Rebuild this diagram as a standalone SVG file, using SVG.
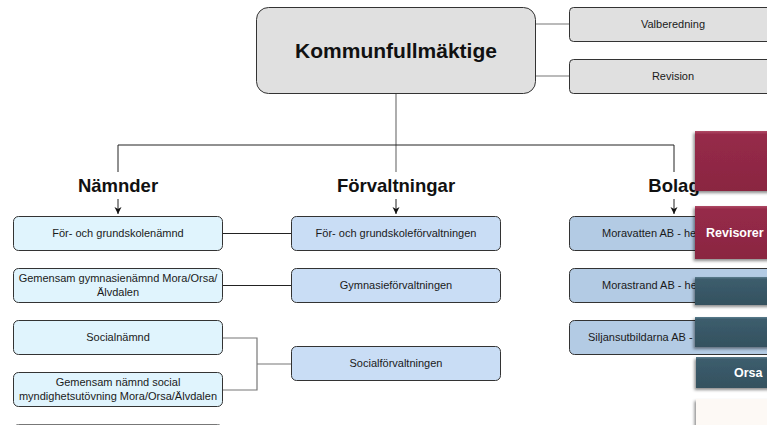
<svg xmlns="http://www.w3.org/2000/svg" width="767" height="425" viewBox="0 0 767 425">
<defs>
<style>
.t{font-family:"Liberation Sans",Arial,sans-serif;font-size:11px;fill:#1a1a1a;text-anchor:middle}
.h{font-family:"Liberation Sans",Arial,sans-serif;font-size:18.5px;font-weight:bold;fill:#111;text-anchor:middle}
.n1{fill:#e0f4fd;stroke:#333;stroke-width:1}
.n2{fill:#c9ddf5;stroke:#333;stroke-width:1}
.n3{fill:#b3cbe4;stroke:#333;stroke-width:1}
.g{fill:#e0e0e0;stroke:#333;stroke-width:1}
.c{fill:none;stroke:#222;stroke-width:1}
.cg{fill:none;stroke:#777;stroke-width:1.2}
.w{font-family:"Liberation Sans",Arial,sans-serif;font-size:12.5px;font-weight:bold;fill:#fff}
</style>
<linearGradient id="red" x1="0" y1="0" x2="0" y2="1">
<stop offset="0" stop-color="#b04a66"/>
<stop offset="0.06" stop-color="#962a49"/>
<stop offset="1" stop-color="#8a2641"/>
</linearGradient>
<linearGradient id="teal" x1="0" y1="0" x2="0" y2="1">
<stop offset="0" stop-color="#5a7d8e"/>
<stop offset="0.08" stop-color="#3c5d6d"/>
<stop offset="1" stop-color="#34515f"/>
</linearGradient>
<filter id="sh" x="-10%" y="-10%" width="130%" height="140%">
<feDropShadow dx="-1.5" dy="2" stdDeviation="1.5" flood-color="#000" flood-opacity="0.45"/>
</filter>
<marker id="arr" markerWidth="8" markerHeight="8" refX="7" refY="4" orient="auto" markerUnits="userSpaceOnUse">
<path d="M0,0.5 L7,4 L0,7.5 L2,4 Z" fill="#111"/>
</marker>
</defs>
<rect width="767" height="425" fill="#fff"/>

<g id="connectors">
<path class="cg" d="M396,94 V172"/>
<path class="c" d="M118,172 V145 H674 V172"/>
<path class="c" d="M118,199 V214" marker-end="url(#arr)"/>
<path class="c" d="M396,199 V214" marker-end="url(#arr)"/>
<path class="c" d="M674,199 V214" marker-end="url(#arr)"/>
<path class="cg" d="M536,24 H569"/>
<path class="cg" d="M536,76 H569"/>
<path class="c" d="M222,233.5 H292"/>
<path class="c" d="M222,285.5 H292"/>
<path class="cg" d="M222,338 H257 V390 H222"/>
<path class="cg" d="M257,364 H292"/>
</g>

<g id="kf">
<rect class="g" x="256.5" y="7.5" width="279" height="86" rx="12"/>
<text x="396" y="58" font-family="Liberation Sans,Arial,sans-serif" font-size="21" font-weight="bold" fill="#111" text-anchor="middle">Kommunfullmäktige</text>
</g>
<g id="valberedning">
<rect class="g" x="569.5" y="7.5" width="208" height="34" rx="4"/>
<text class="t" x="673" y="28">Valberedning</text>
</g>
<g id="revision">
<rect class="g" x="569.5" y="59.5" width="208" height="34" rx="4"/>
<text class="t" x="673" y="80">Revision</text>
</g>

<g id="labels">
<text class="h" x="118" y="192">Nämnder</text>
<text class="h" x="396" y="192">Förvaltningar</text>
<text class="h" x="674" y="192">Bolag</text>
</g>

<g id="n-forgrund">
<rect class="n1" x="13.5" y="216.5" width="209" height="34" rx="5"/>
<text class="t" x="118" y="237">För- och grundskolenämnd</text>
</g>
<g id="n-gymn">
<rect class="n1" x="13.5" y="268.5" width="209" height="34" rx="5"/>
<text class="t" x="118" y="282">Gemensam gymnasienämnd Mora/Orsa/</text>
<text class="t" x="118" y="296">Älvdalen</text>
</g>
<g id="n-social">
<rect class="n1" x="13.5" y="320.5" width="209" height="34" rx="5"/>
<text class="t" x="118" y="341">Socialnämnd</text>
</g>
<g id="n-myndighet">
<rect class="n1" x="13.5" y="372.5" width="209" height="34" rx="5"/>
<text class="t" x="118" y="386">Gemensam nämnd social</text>
<text class="t" x="118" y="400">myndighetsutövning Mora/Orsa/Älvdalen</text>
</g>
<g id="n-next">
<rect x="13.5" y="424.5" width="209" height="34" rx="5" fill="#e0f4fd" stroke="#777"/>
</g>

<g id="f-forgrund">
<rect class="n2" x="291.5" y="216.5" width="209" height="34" rx="5"/>
<text class="t" x="396" y="237">För- och grundskoleförvaltningen</text>
</g>
<g id="f-gymn">
<rect class="n2" x="291.5" y="268.5" width="209" height="34" rx="5"/>
<text class="t" x="396" y="289">Gymnasieförvaltningen</text>
</g>
<g id="f-social">
<rect class="n2" x="291.5" y="346.5" width="209" height="34" rx="5"/>
<text class="t" x="396" y="367">Socialförvaltningen</text>
</g>

<g id="b-moravatten">
<rect class="n3" x="569.5" y="216.5" width="209" height="34" rx="5"/>
<text class="t" x="602" y="237" style="text-anchor:start">Moravatten AB - he</text>
</g>
<g id="b-morastrand">
<rect class="n3" x="569.5" y="268.5" width="209" height="34" rx="5"/>
<text class="t" x="602" y="289" style="text-anchor:start">Morastrand AB - he</text>
</g>
<g id="b-siljans">
<rect class="n3" x="569.5" y="320.5" width="209" height="34" rx="5"/>
<text class="t" x="588" y="341" style="text-anchor:start">Siljansutbildarna AB -</text>
</g>

<g id="overlay">
<rect x="695" y="131" width="80" height="60" fill="url(#red)" filter="url(#sh)"/>
<rect x="695" y="206" width="80" height="53" fill="url(#red)" filter="url(#sh)"/>
<text class="w" x="706" y="237">Revisorer</text>
<rect x="695" y="277" width="80" height="28" fill="url(#teal)" filter="url(#sh)"/>
<rect x="695" y="317" width="80" height="30" fill="url(#teal)" filter="url(#sh)"/>
<rect x="696" y="357" width="80" height="31" fill="url(#teal)" filter="url(#sh)"/>
<text class="w" x="734" y="377">Orsa</text>
<rect x="696" y="399" width="80" height="30" fill="#fdf9f5" filter="url(#sh)"/>
</g>
</svg>
